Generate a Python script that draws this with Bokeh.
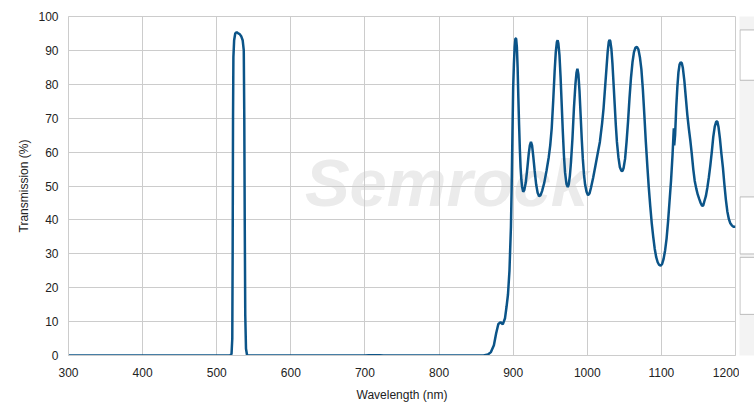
from bokeh.plotting import figure
from bokeh.layouts import row
from bokeh.models import Label, Range1d, FixedTicker
from bokeh.embed import file_html
from bokeh.resources import INLINE

wavelength = [300, 500, 518, 520, 521, 521.5, 522, 522.5, 523.5, 525, 527, 529, 531, 533, 535,
              536.5, 537.2, 537.8, 538.5, 539.5, 541, 700, 705, 720, 725, 860, 866, 870, 874,
              877, 880, 883, 886, 889, 891, 893, 895, 897, 898, 899, 900, 901, 902, 903, 904,
              905, 906, 907, 908, 909, 910, 911, 912, 913.5, 915, 917, 919, 921, 922.5, 924,
              925.5, 927, 929, 931, 933, 935, 937, 939, 942, 945, 948, 950, 952, 954, 956,
              957.5, 959, 960, 961, 962.5, 964, 965.5, 967, 968.5, 970, 972, 973.7, 975, 976.5,
              978, 980, 982, 984, 985.5, 986.7, 988, 989.5, 991, 992.5, 994, 995.5, 997, 999,
              1001, 1003, 1005, 1008, 1011, 1014, 1017, 1020, 1022, 1024, 1026, 1027.5, 1029,
              1030, 1031, 1032.5, 1034, 1035.5, 1037, 1038.5, 1040, 1042, 1044, 1046, 1047.5,
              1049, 1051, 1053, 1055, 1057, 1059, 1061, 1063, 1065, 1067, 1069, 1071, 1073,
              1075, 1077, 1079, 1081, 1083, 1085, 1087, 1089, 1091, 1093, 1095, 1097, 1099,
              1101, 1103, 1105, 1107, 1109, 1111, 1113, 1115, 1116.3, 1116.8, 1117.3, 1118.5,
              1120, 1121.5, 1123, 1124.5, 1126, 1127.5, 1129, 1131, 1133, 1135, 1137, 1139,
              1141, 1143, 1145, 1147, 1149, 1151, 1153, 1155, 1156.5, 1158, 1160, 1162, 1164,
              1166, 1168, 1170, 1172, 1174, 1175.5, 1177, 1179, 1181, 1183, 1185, 1187, 1189,
              1191, 1193, 1195, 1197, 1200]
transmission = [0, 0, 0, 0.5, 5, 30, 70, 88, 93, 95, 95.4, 95, 94.8, 94.2, 93,
                90, 70, 40, 12, 2, 0, 0, 0.1, 0.1, 0, 0, 0.3, 1, 3,
                6.5, 9.3, 9.8, 9.2, 11, 14.3, 18, 25, 38, 50, 65, 79, 86, 91, 93.5, 93.5,
                91, 85, 76, 68, 61, 55.5, 52, 49.8, 48.3, 48.8, 51, 55, 59.5, 62, 63,
                62, 59, 54.5, 50.5, 48, 47, 47.3, 48.5, 51, 54.5, 58.5, 62, 67, 75, 84,
                89.5, 92.5, 93, 92, 88.5, 82, 74, 66, 59, 54, 50.5, 49.7, 50.5, 53,
                57, 64, 73, 80, 83.5, 84.6, 83, 78, 71, 64, 58, 53.5, 50.5, 48.3,
                47.3, 47.8, 49.5, 52.5, 56, 59.5, 63, 68.5, 73, 79, 85, 89.5, 92.5,
                93.1, 92.8, 90.5, 86, 80, 74, 68, 63, 58.5, 55.5, 54.5, 54.4,
                55.3, 58, 63, 69, 76, 82, 86.5, 89.5, 90.8, 91, 90.3, 88, 84.5,
                78.5, 71, 63, 56, 49.5, 44, 39, 35, 31.5, 29, 27.5, 26.7, 26.5,
                27, 28.5, 31, 34.5, 39.5, 45.5, 51.5, 59, 65, 67, 62, 65,
                73, 79, 83.5, 85.8, 86.5, 86.3, 84.8, 81, 76, 71, 67, 63.5,
                59.5, 55, 51.5, 49.3, 47.5, 46.2, 45, 44.1, 44.3, 45.5, 47, 49.5, 52.5,
                56, 60, 64.5, 67.5, 69, 69, 67.5, 64, 59.5, 55.5, 50.5, 46, 42.5,
                40.3, 39, 38.4, 38, 38]

x_ticks = [300, 400, 500, 600, 700, 800, 900, 1000, 1100, 1200]
y_ticks = [0, 10, 20, 30, 40, 50, 60, 70, 80, 90, 100]

# side panel boxes (page chrome to the right of the chart), in pixel rows from the top
panel_tops = [16, 215, 287]
panel_bottoms = [76, 283, 355]

p = figure(width=739, height=404, output_backend="svg", toolbar_location=None,
           x_range=Range1d(300, 1200), y_range=Range1d(0, 100),
           min_border_left=68, min_border_right=4, min_border_top=16, min_border_bottom=49)

p.background_fill_color = "white"
p.border_fill_color = "white"
p.outline_line_color = "#cccccc"

wm = Label(x=619, y=51, text="Semrock", text_font="Liberation Sans", text_font_style="bold italic",
           text_font_size="67px", text_color="#ebebeb", text_baseline="alphabetic", level="image")
p.add_layout(wm)

p.line(wavelength, transmission, line_color="#0b5488", line_width=2.5)

for ax in (p.xaxis[0], p.yaxis[0]):
    ax.axis_line_color = "#cccccc"
    ax.major_tick_line_color = None
    ax.minor_tick_line_color = None
    ax.major_label_text_font = "Liberation Sans"
    ax.major_label_text_font_size = "12px"
    ax.major_label_text_color = "#222222"
    ax.axis_label_text_font = "Liberation Sans"
    ax.axis_label_text_font_size = "12px"
    ax.axis_label_text_font_style = "normal"
    ax.axis_label_text_color = "#222222"

p.xaxis.ticker = FixedTicker(ticks=x_ticks)
p.yaxis.ticker = FixedTicker(ticks=y_ticks)
p.xaxis.axis_label = "Wavelength (nm)"
p.yaxis.axis_label = "Transmission (%)"
p.xaxis.major_label_standoff = 6
p.yaxis.major_label_standoff = 4
p.xaxis.axis_label_standoff = 8
p.yaxis.axis_label_standoff = 4

p.xgrid.ticker = FixedTicker(ticks=x_ticks)
p.ygrid.ticker = FixedTicker(ticks=y_ticks)
p.grid.grid_line_color = "#cccccc"
p.grid.grid_line_width = 1

side = figure(width=15, height=404, output_backend="svg", toolbar_location=None,
              x_range=Range1d(0, 15), y_range=Range1d(404, 0),
              min_border=0, x_axis_type=None, y_axis_type=None)
side.grid.visible = False
side.outline_line_color = None
side.background_fill_color = "#f3f3f3"
side.border_fill_color = "white"
side.quad(left=0.5, right=20, top=panel_tops, bottom=panel_bottoms,
          fill_color="white", line_color="#bbbbbb", line_width=1)

layout = row(p, side, spacing=0)

open("out.html", "w").write(file_html(layout, INLINE))
